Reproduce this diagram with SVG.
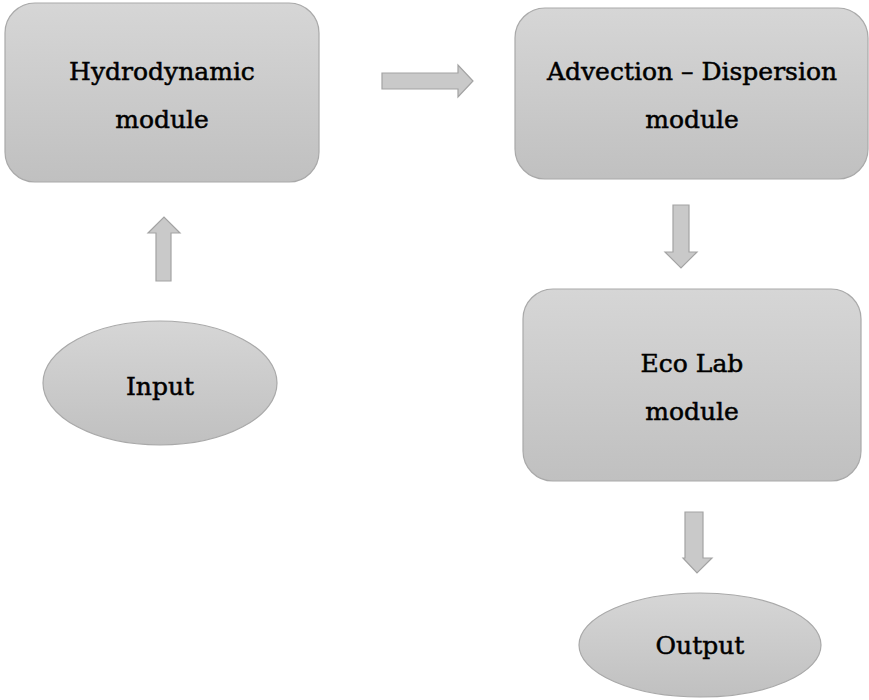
<svg xmlns="http://www.w3.org/2000/svg" width="869" height="700" viewBox="0 0 869 700">
<defs>
<linearGradient id="g" x1="0" y1="0" x2="0" y2="1">
<stop offset="0" stop-color="#d6d6d6"/>
<stop offset="1" stop-color="#c0c0c0"/>
</linearGradient>
<style>
.n{fill:url(#g);stroke:#a9a9a9;stroke-width:1.2}
.a{fill:#c9c9c9;stroke:#a3a3a3;stroke-width:1.2}
.t{font-family:"DejaVu Serif","Liberation Serif",serif;font-size:25px;fill:#000;stroke:#000;stroke-width:0.5;text-anchor:middle}
</style>
</defs>
<rect width="869" height="700" fill="#fff"/>
<g id="hydro">
<rect class="n" x="5" y="3" width="314" height="179" rx="30"/>
<text class="t" x="162" y="80">Hydrodynamic</text>
<text class="t" x="162" y="128">module</text>
</g>
<g id="advection">
<rect class="n" x="515" y="8" width="353" height="171" rx="30"/>
<text class="t" x="692" y="80">Advection – Dispersion</text>
<text class="t" x="692" y="128">module</text>
</g>
<g id="ecolab">
<rect class="n" x="523" y="289" width="338" height="192" rx="30"/>
<text class="t" x="692" y="372">Eco Lab</text>
<text class="t" x="692" y="420">module</text>
</g>
<g id="input">
<ellipse class="n" cx="160" cy="383" rx="117" ry="62"/>
<text class="t" x="160" y="395">Input</text>
</g>
<g id="output">
<ellipse class="n" cx="700" cy="645" rx="121" ry="52"/>
<text class="t" x="700" y="654">Output</text>
</g>
<g id="connectors">
<path class="a" d="M382,73 H458 V65 L473,81 L458,97 V89 H382 Z"/>
<path class="a" d="M156,281 V233 H148 L164,217 L180,233 H171 V281 Z"/>
<path class="a" d="M673,205 H689 V252 H697 L681,268 L665,252 H673 Z"/>
<path class="a" d="M685,512 H703 V558 H712 L697,573 L683,558 H685 Z"/>
</g>
</svg>
